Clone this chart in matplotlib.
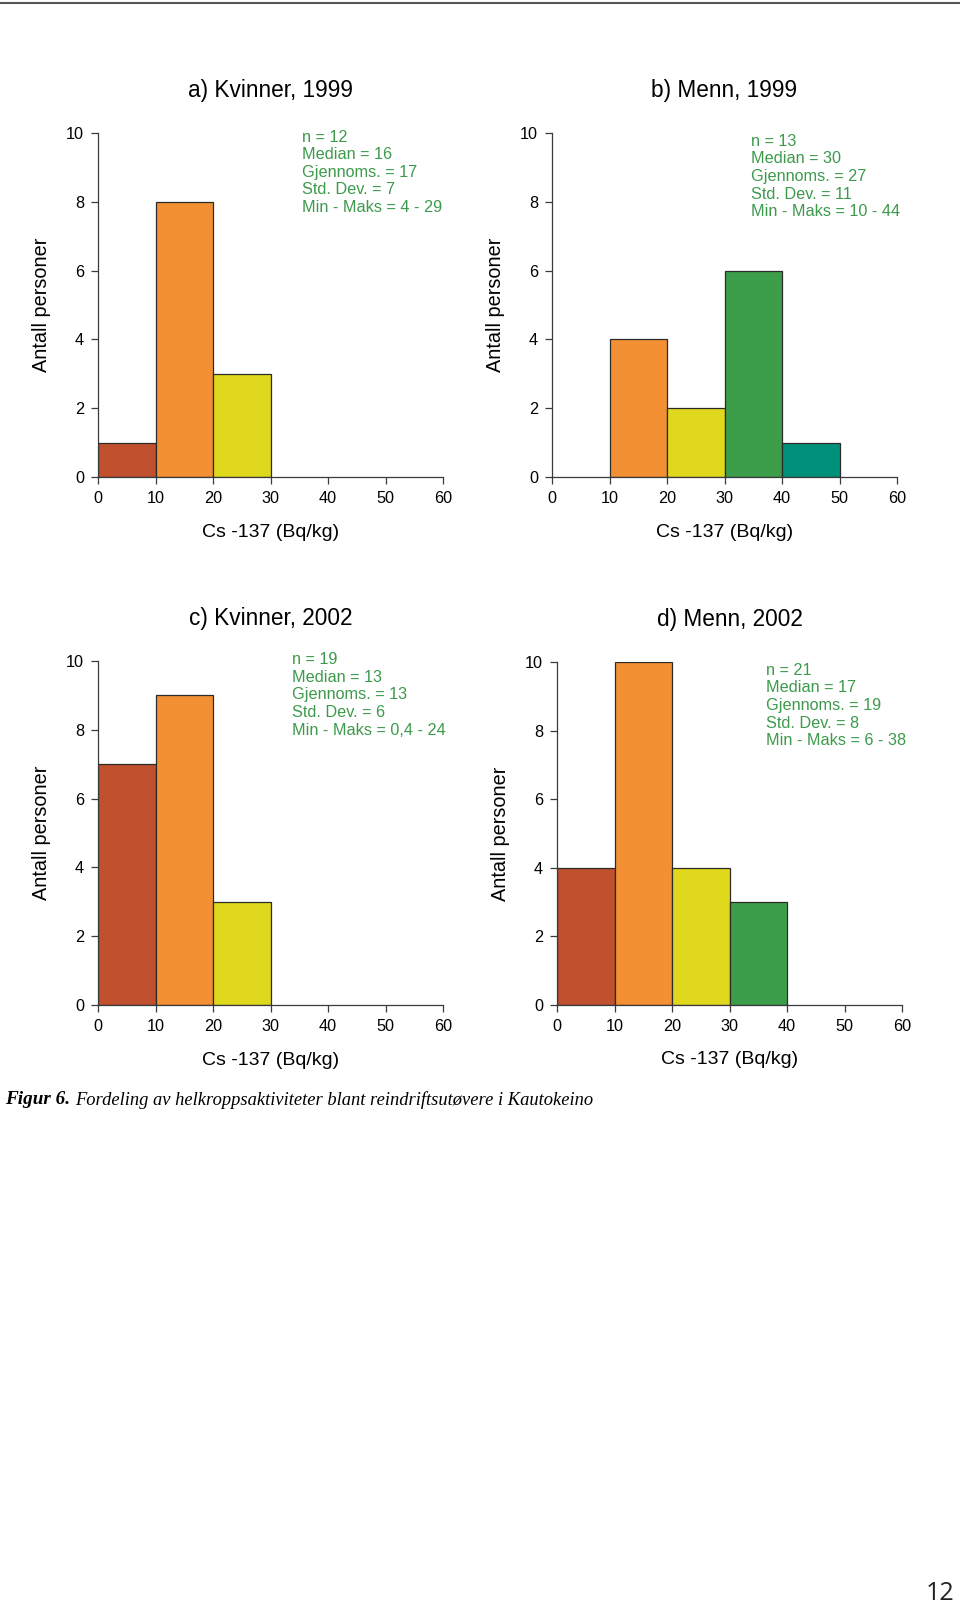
import matplotlib
matplotlib.use("Agg")
import matplotlib.pyplot as plt
from matplotlib.lines import Line2D

plt.rcParams['font.family'] = ['Liberation Sans', 'DejaVu Sans']

# Histogrammer: Cs-137 (Bq/kg), klassebredde 10
bin_edges = [0, 10, 20, 30, 40, 50]
bin_colors = ['#c1502e', '#f39033', '#e0d81c', '#3c9e48', '#00917a']

counts_a = [1, 8, 3, 0, 0]
counts_b = [0, 4, 2, 6, 1]
counts_c = [7, 9, 3, 0, 0]
counts_d = [4, 10, 4, 3, 0]

titles = ['a) Kvinner, 1999', 'b) Menn, 1999', 'c) Kvinner, 2002', 'd) Menn, 2002']

stats_a = ['n = 12', 'Median = 16', 'Gjennoms. = 17', 'Std. Dev. = 7', 'Min - Maks = 4 - 29']
stats_b = ['n = 13', 'Median = 30', 'Gjennoms. = 27', 'Std. Dev. = 11', 'Min - Maks = 10 - 44']
stats_c = ['n = 19', 'Median = 13', 'Gjennoms. = 13', 'Std. Dev. = 6', 'Min - Maks = 0,4 - 24']
stats_d = ['n = 21', 'Median = 17', 'Gjennoms. = 19', 'Std. Dev. = 8', 'Min - Maks = 6 - 38']

x_ticks = [0, 10, 20, 30, 40, 50, 60]
y_ticks = [0, 2, 4, 6, 8, 10]

W, H = 960, 1605
fig = plt.figure(figsize=(W / 100, H / 100), dpi=100)

# pikselposisjoner (venstre, topp, høyre, bunn) for hvert panel
panels = [
    (98, 133, 443, 477, counts_a, stats_a, (0.591, 1.010)),
    (552, 133, 897, 477, counts_b, stats_b, (0.577, 0.998)),
    (98, 661, 443, 1005, counts_c, stats_c, (0.562, 1.026)),
    (557, 662, 902, 1005, counts_d, stats_d, (0.606, 0.998)),
]

green = '#3d9a4c'
axcol = '#3a3a3a'

for i, (l, t, r, b, counts, stats, spos) in enumerate(panels):
    ax = fig.add_axes([l / W, 1 - b / H, (r - l) / W, (b - t) / H])
    for k in range(len(counts)):
        if counts[k] > 0:
            ax.bar(bin_edges[k], counts[k], width=10, align='edge',
                   color=bin_colors[k], edgecolor='#2b2b2b', linewidth=0.9, zorder=2)
    ax.set_xlim(0, 60)
    ax.set_ylim(0, 10)
    ax.set_xticks(x_ticks)
    ax.set_yticks(y_ticks)
    for s in ['top', 'right']:
        ax.spines[s].set_visible(False)
    for s in ['left', 'bottom']:
        ax.spines[s].set_color(axcol)
        ax.spines[s].set_linewidth(0.9)
        ax.spines[s].set_zorder(3)
    ax.tick_params(axis='both', length=5, width=0.9, color=axcol, labelsize=11.7)
    ax.tick_params(axis='x', pad=5)
    ax.tick_params(axis='y', pad=5)

    ax.text(0.5, 1.125, titles[i], transform=ax.transAxes, ha='center', va='center',
            fontsize=16.3)
    ax.text(0.5, -0.16, 'Cs -137 (Bq/kg)', transform=ax.transAxes, ha='center',
            va='center', fontsize=14)
    ax.text(-0.165, 0.5, 'Antall personer', transform=ax.transAxes, ha='center',
            va='center', rotation=90, fontsize=14.3)
    ax.text(spos[0], spos[1], '\n'.join(stats), transform=ax.transAxes, ha='left',
            va='top', fontsize=11.7, color=green, linespacing=1.22)

# linje øverst på siden
fig.add_artist(Line2D([0, 1], [1 - 3 / H, 1 - 3 / H], color='#555555', lw=1.5))

# figurtekst
cap_y = 1 - 1100 / H
t1 = fig.text(5 / W, cap_y, 'Figur 6.', ha='left', va='center', fontsize=13.8,
              family='Liberation Serif', style='italic', weight='bold')
fig.canvas.draw()
bb = t1.get_window_extent()
fig.text((bb.x1 + 5) / W, cap_y, 'Fordeling av helkroppsaktiviteter blant reindriftsutøvere i Kautokeino',
         ha='left', va='center', fontsize=13.3, family='Liberation Serif', style='italic')

# sidetall
fig.text(954 / W, 1 - 1600 / H, '12', ha='right', va='baseline', fontsize=18,
         family='Open Sans', color='#222222')

fig.savefig('out.png', dpi=100)
